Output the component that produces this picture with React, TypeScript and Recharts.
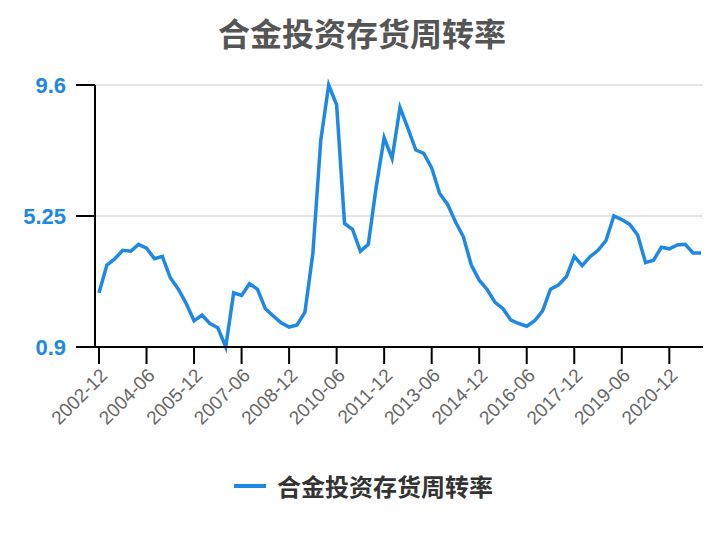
import { LineChart, Line, XAxis, YAxis, CartesianGrid } from 'recharts'

const dates = [
  '2002-12',
  '2003-03', '2003-06', '2003-09', '2003-12',
  '2004-03', '2004-06', '2004-09', '2004-12',
  '2005-03', '2005-06', '2005-09', '2005-12',
  '2006-03', '2006-06', '2006-09', '2006-12',
  '2007-03', '2007-06', '2007-09', '2007-12',
  '2008-03', '2008-06', '2008-09', '2008-12',
  '2009-03', '2009-06', '2009-09', '2009-12',
  '2010-03', '2010-06', '2010-09', '2010-12',
  '2011-03', '2011-06', '2011-09', '2011-12',
  '2012-03', '2012-06', '2012-09', '2012-12',
  '2013-03', '2013-06', '2013-09', '2013-12',
  '2014-03', '2014-06', '2014-09', '2014-12',
  '2015-03', '2015-06', '2015-09', '2015-12',
  '2016-03', '2016-06', '2016-09', '2016-12',
  '2017-03', '2017-06', '2017-09', '2017-12',
  '2018-03', '2018-06', '2018-09', '2018-12',
  '2019-03', '2019-06', '2019-09', '2019-12',
  '2020-03', '2020-06', '2020-09', '2020-12',
  '2021-03', '2021-06', '2021-09', '2021-12'
]

const turnover = [
  2.70, 3.62, 3.83, 4.11, 4.08, 4.31, 4.18, 3.83, 3.91, 3.20,
  2.83, 2.35, 1.77, 1.96, 1.68, 1.54, 0.90, 2.70, 2.61, 3.00,
  2.82, 2.17, 1.93, 1.70, 1.56, 1.63, 2.06, 4.01, 7.77, 9.60,
  8.94, 5.00, 4.81, 4.08, 4.31, 6.22, 7.85, 7.16, 8.85, 8.16,
  7.44, 7.33, 6.85, 6.00, 5.64, 5.06, 4.56, 3.62, 3.12, 2.81,
  2.38, 2.17, 1.79, 1.68, 1.59, 1.77, 2.10, 2.82, 2.96, 3.23,
  3.91, 3.60, 3.90, 4.11, 4.43, 5.25, 5.13, 4.97, 4.62, 3.70,
  3.78, 4.21, 4.16, 4.29, 4.31, 4.02, 4.02
]

const yTicks = [0.9, 5.25, 9.6]

const seriesName = '合金投资存货周转率'
const blue = '#1e88e5'

const data = dates.map((date, i) => ({ date, value: turnover[i] }))

export default function App() {
  return (
    <div style={{ position: 'relative', width: 724, height: 540, background: '#fff', fontFamily: '"Liberation Sans", Arial, sans-serif' }}>
      <style>{'body{margin:0}'}</style>
      {/* title */}
      <div
        style={{
          position: 'absolute', top: 15, left: 0, width: 724, textAlign: 'center',
          fontSize: 32, lineHeight: '34px', fontWeight: 'bold', color: '#555',
          fontFamily: '"Noto Sans CJK SC", sans-serif'
        }}
      >
        {seriesName}
      </div>

      <LineChart width={724} height={540} data={data} margin={{ top: 85, right: 21, left: 0, bottom: 93 }}>
        <CartesianGrid vertical={false} stroke="#e5e5e5" strokeWidth={2} />
        <XAxis
          dataKey="date"
          interval={5}
          padding={{ left: 4, right: 2 }}
          height={100}
          axisLine={{ stroke: '#000', strokeWidth: 2 }}
          tickLine={{ stroke: '#000', strokeWidth: 2 }}
          tickSize={17}
          tickMargin={3}
          angle={-45}
          textAnchor="end"
          tick={{ fill: '#666', fontSize: 19 }}
        />
        <YAxis
          domain={[0.9, 9.6]}
          ticks={yTicks}
          width={95}
          axisLine={{ stroke: '#000', strokeWidth: 2 }}
          tickLine={{ stroke: '#000', strokeWidth: 2 }}
          tickSize={19}
          tickMargin={10}
          tick={{ fill: blue, fontSize: 22, fontWeight: 'bold' }}
        />
        <Line
          type="linear"
          dataKey="value"
          name={seriesName}
          stroke={blue}
          strokeWidth={3.5}
          dot={false}
          isAnimationActive={false}
        />
      </LineChart>

      {/* legend */}
      <div style={{ position: 'absolute', top: 471, left: 234, display: 'flex', alignItems: 'center' }}>
        <span style={{ display: 'inline-block', width: 32, height: 4, background: blue, marginRight: 11 }} />
        <span style={{ fontSize: 24, lineHeight: '30px', fontWeight: 'bold', color: '#333', fontFamily: '"Noto Sans CJK SC", sans-serif' }}>
          {seriesName}
        </span>
      </div>
    </div>
  )
}
